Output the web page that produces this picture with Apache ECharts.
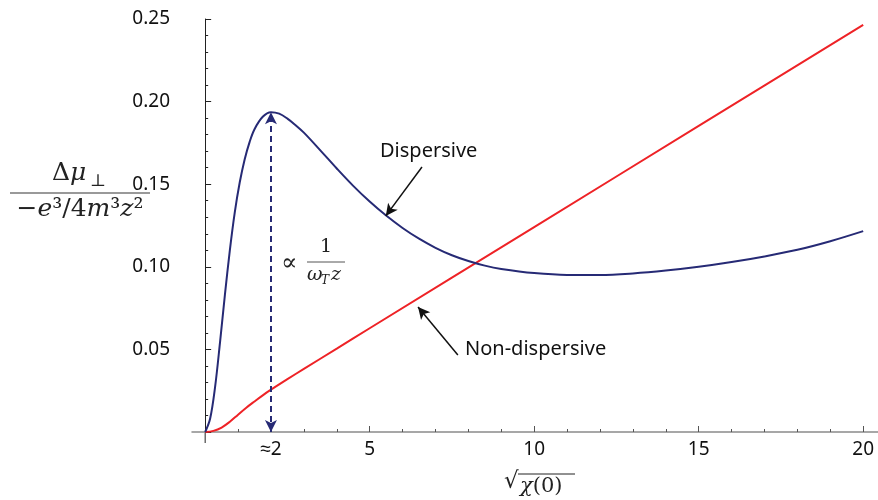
<!DOCTYPE html>
<html>
<head>
<meta charset="utf-8">
<script src="https://cdn.jsdelivr.net/npm/echarts@6/dist/echarts.min.js"></script>
<style>
  html, body { margin: 0; padding: 0; background: #fff; }
</style>
</head>
<body>
<div id="main" style="width: 878px;height: 500px;"></div>
<script>
// dispersive curve (navy)
const dispX = [0, 0.15, 0.3, 0.45, 0.6, 0.75, 0.9, 1.05, 1.2, 1.35, 1.5, 1.75, 2.0, 2.25, 2.5, 2.75, 3, 3.5, 4, 4.5, 5, 5.5, 6, 6.5, 7, 7.5, 8, 8.5, 9, 10, 11, 12, 13, 14, 15, 16, 17, 18, 19, 20]
const dispY = [0, 0.008, 0.027, 0.054, 0.083, 0.110, 0.133, 0.151, 0.165, 0.1755, 0.1833, 0.1908, 0.1936, 0.1927, 0.1897, 0.1857, 0.1812, 0.1705, 0.1595, 0.149, 0.1395, 0.131, 0.1235, 0.117, 0.1115, 0.107, 0.1035, 0.1007, 0.0987, 0.0962, 0.0951, 0.0951, 0.096, 0.0977, 0.100, 0.1029, 0.1063, 0.1103, 0.1155, 0.1216]
// non-dispersive curve (red)
const nonDispX = [0, 0.25, 0.5, 0.75, 1, 1.25, 1.5, 1.75, 2, 2.5, 3, 4, 5, 10, 15, 20]
const nonDispY = [0, 0.0007, 0.0027, 0.0062, 0.0105, 0.0147, 0.0185, 0.0222, 0.0256, 0.032, 0.0382, 0.0505, 0.0628, 0.124, 0.1853, 0.2465]

// axis ticks / labels
const xMajorTicks = [5, 10, 15, 20]
const xMinorTicks = [1, 2, 3, 4, 6, 7, 8, 9, 11, 12, 13, 14, 16, 17, 18, 19]
const xLabels = [2, 5, 10, 15, 20]

// annotations: [from, to] in data units
const peakX = 2
const peakY = 0.1936
const dispArrow = [[6.59, 0.1604], [5.49, 0.1308]]
const nonDispArrow = [[7.68, 0.0466], [6.47, 0.0757]]

const navy = '#262a75'
const red = '#ee2226'
const serif = "'DejaVu Serif', 'Liberation Serif', serif"
const sans = "'Noto Sans', sans-serif"

function zip(xs, ys) {
    return xs.map((x, i) => [x, ys[i]])
}

function arrowLine(pts, style) {
    return [
        { coord: pts[0], symbol: 'none', lineStyle: style },
        { coord: pts[1], symbol: 'arrow' }
    ]
}

var chartDom = document.getElementById('main');
var myChart = echarts.init(chartDom);

const blackArrow = { color: '#111', width: 1.5, type: 'solid' }

var option = {
    animation: false,
    grid: { left: 192, right: 0, top: 19, bottom: 68 },
    xAxis: [
        {
            type: 'value',
            min: -0.4,
            max: 20.45,
            axisLine: { onZero: true, lineStyle: { color: '#8a8a8a', width: 1.5 } },
            axisTick: { inside: true, length: 6, customValues: xMajorTicks, lineStyle: { color: '#555' } },
            axisLabel: {
                customValues: xLabels,
                margin: 8,
                color: '#111',
                fontSize: 19,
                fontFamily: sans,
                formatter: v => (v === 2 ? '\u22482' : String(v))
            },
            splitLine: { show: false }
        },
        {
            type: 'value',
            min: -0.4,
            max: 20.45,
            position: 'bottom',
            axisLine: { show: false },
            axisTick: { inside: true, length: 3, customValues: xMinorTicks, lineStyle: { color: '#555' } },
            axisLabel: { show: false },
            splitLine: { show: false }
        }
    ],
    yAxis: {
        type: 'value',
        min: 0,
        max: 0.25,
        interval: 0.05,
        axisLine: { show: true, onZero: true, onZeroAxisIndex: 0, lineStyle: { color: '#222', width: 1 } },
        axisTick: { show: true, inside: true, length: 6, lineStyle: { color: '#222' } },
        minorTick: { show: true, splitNumber: 5, length: 3, lineStyle: { color: '#222' } },
        axisLabel: {
            margin: 22,
            color: '#111',
            fontSize: 19,
            fontFamily: sans,
            formatter: v => (v === 0 ? '' : v.toFixed(2))
        },
        splitLine: { show: false }
    },
    series: [
        {
            name: 'Non-dispersive',
            type: 'line',
            smooth: 0.35,
            showSymbol: false,
            lineStyle: { color: red, width: 2 },
            data: zip(nonDispX, nonDispY),
            markLine: {
                silent: true,
                symbol: ['none', 'arrow'],
                symbolSize: [9, 12],
                label: { show: false },
                lineStyle: blackArrow,
                data: [arrowLine(nonDispArrow, blackArrow)]
            }
        },
        {
            name: 'Dispersive',
            type: 'line',
            smooth: 0.35,
            showSymbol: false,
            lineStyle: { color: navy, width: 2 },
            data: zip(dispX, dispY),
            markLine: {
                silent: true,
                symbol: ['arrow', 'arrow'],
                symbolSize: [9, 12],
                label: { show: false },
                lineStyle: { color: navy, width: 2 },
                data: [
                    [{ coord: [peakX, 0], lineStyle: { type: [6, 4], color: navy, width: 2 } },
                     { coord: [peakX, peakY] }],
                    arrowLine(dispArrow, blackArrow)
                ]
            }
        }
    ],
    graphic: [
        // curve labels
        { type: 'text', left: 380, top: 141, style: { text: 'Dispersive', font: '20px ' + sans, fill: '#111' } },
        { type: 'text', left: 465, top: 339, style: { text: 'Non-dispersive', font: '20px ' + sans, fill: '#111' } },
        // y axis name: fraction
        { type: 'text', x: 52, y: 186, style: { text: '\u0394', font: '25px ' + serif, fill: '#222', textVerticalAlign: 'bottom' } },
        { type: 'text', x: 70, y: 186, style: { text: '\u03bc', font: 'italic 25px ' + serif, fill: '#222', textVerticalAlign: 'bottom' } },
        { type: 'text', x: 90, y: 190, style: { text: '\u22a5', font: '17px ' + serif, fill: '#222', textVerticalAlign: 'bottom' } },
        { type: 'line', shape: { x1: 10, y1: 193, x2: 150, y2: 193 }, style: { stroke: '#777', lineWidth: 1.5 } },
        {
            type: 'text', x: 80, y: 197,
            style: {
                text: '{u|\u2212}{i|e}{u|\u00b3/4}{i|m}{u|\u00b3}{i|z}{u|\u00b2}',
                textAlign: 'center', textVerticalAlign: 'top', fill: '#222',
                rich: {
                    u: { font: '25px ' + serif, fill: '#222' },
                    i: { font: 'italic 25px ' + serif, fill: '#222' }
                }
            }
        },
        // peak annotation: proportional to 1 / (omega_T z)
        { type: 'text', x: 281, y: 264, style: { text: '\u221d', font: '24px ' + serif, fill: '#222', textVerticalAlign: 'middle' } },
        { type: 'text', x: 326, y: 257, style: { text: '1', font: '19px ' + serif, fill: '#222', textAlign: 'center', textVerticalAlign: 'bottom' } },
        { type: 'line', shape: { x1: 307, y1: 262, x2: 345, y2: 262 }, style: { stroke: '#555', lineWidth: 1 } },
        { type: 'text', x: 307, y: 266, style: { text: '\u03c9', font: 'italic 19px ' + serif, fill: '#222', textVerticalAlign: 'top' } },
        { type: 'text', x: 321, y: 275, style: { text: 'T', font: 'italic 12px ' + serif, fill: '#222', textVerticalAlign: 'top' } },
        { type: 'text', x: 331, y: 266, style: { text: 'z', font: 'italic 19px ' + serif, fill: '#222', textVerticalAlign: 'top' } },
        // x axis name: sqrt(chi(0))
        { type: 'text', x: 504, y: 471, style: { text: '\u221a', font: '23px ' + serif, fill: '#222', textVerticalAlign: 'top' } },
        { type: 'line', shape: { x1: 518, y1: 474, x2: 575, y2: 474 }, style: { stroke: '#222', lineWidth: 1 } },
        {
            type: 'text', x: 520, y: 476,
            style: {
                text: '{i|\u03c7}{u|(0)}',
                textVerticalAlign: 'top', fill: '#222',
                rich: {
                    u: { font: '21px ' + serif, fill: '#222' },
                    i: { font: 'italic 21px ' + serif, fill: '#222' }
                }
            }
        }
    ]
};

option && myChart.setOption(option);

// y axis line runs a little below the x axis
var p0 = myChart.convertToPixel({ xAxisIndex: 0, yAxisIndex: 0 }, [0, 0]);
myChart.setOption({
    graphic: [
        { id: 'yext', type: 'line', shape: { x1: p0[0], y1: p0[1], x2: p0[0], y2: p0[1] + 11 }, style: { stroke: '#222', lineWidth: 1 } }
    ]
});
</script>
</body>
</html>
